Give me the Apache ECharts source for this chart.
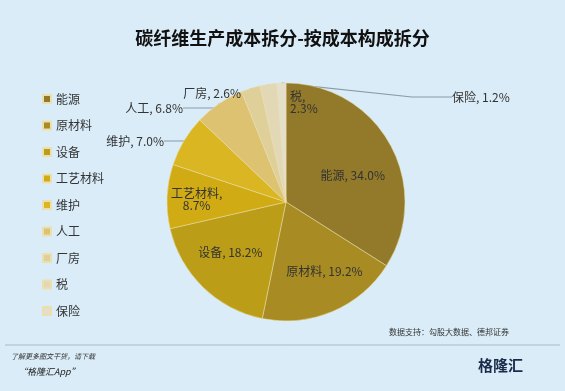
<!DOCTYPE html>
<html><head><meta charset="utf-8">
<script src="https://cdn.jsdelivr.net/npm/echarts@6/dist/echarts.min.js"></script>
<style>html,body{margin:0;padding:0;background:#d9ecf7;}#c{width:565px;height:391px;}</style>
</head><body><div id="c"></div>
<script>
const categories = ['能源','原材料','设备','工艺材料','维护','人工','厂房','税','保险'];
const values = [34.0, 19.2, 18.2, 8.7, 7.0, 6.8, 2.6, 2.3, 1.2];
const colors = ['#927a2a','#a88c23','#bc9d17','#d0ab14','#dab722','#dcc271','#dfcf98','#e2d8b6','#e4dfcb'];
const inside = {'能源':1,'原材料':1,'设备':1,'工艺材料':1};
const chart = echarts.init(document.getElementById('c'));
const fmt = v => v.toFixed(1) + '%';
const data = categories.map((n,i)=>{
  const d = {name:n, value:values[i], itemStyle:{color:colors[i]}};
  if (inside[n]) {
    d.label = {position:'inside', formatter: n==='工艺材料' ? (p=>p.name+',\n'+fmt(p.value)) : (p=>p.name+', '+fmt(p.value))};
    d.labelLine = {show:false};
  }
  if (n==='税') { d.label = {formatter:p=>p.name+',\n'+fmt(p.value), align:'left'}; }
  return d;
});
chart.setOption({
  backgroundColor:'#d9ecf7',
  animation:false,
  title:{text:'碳纤维生产成本拆分-按成本构成拆分', left:'center', top:24,
    textStyle:{fontSize:18, fontWeight:'bold', color:'#111', fontFamily:'Noto Sans CJK SC'}},
  legend:{orient:'vertical', left:37, top:88, itemWidth:8, itemHeight:8, itemGap:14.5, icon:'rect',
    textStyle:{fontSize:12, color:'#333', fontFamily:'Noto Sans CJK SC'}, data:categories},
  graphic:[
    {type:'text', left:178, top:163, style:{text:'格隆汇  |  勾股大数据', fontSize:20, fill:'rgba(150,150,150,0.22)', fontFamily:'Noto Sans CJK SC'}},
    {type:'line', shape:{x1:5,y1:345,x2:560,y2:345}, style:{stroke:'#b0b8bf', lineWidth:1}},
    {type:'text', right:56, top:328, style:{text:'数据支持：勾股大数据、德邦证券', fontSize:8, fill:'#333', fontFamily:'Noto Sans CJK SC'}},
    {type:'text', left:11, top:353, style:{text:'了解更多图文干货，请下载', fontSize:7, fontStyle:'italic', fill:'#333', fontFamily:'Noto Sans CJK SC'}},
    {type:'text', left:18, top:367, style:{text:'“格隆汇App”', fontSize:9, fontStyle:'italic', fill:'#222', fontFamily:'Noto Sans CJK SC'}},
    {type:'text', left:478, top:358, style:{text:'格隆汇', fontSize:15, fontWeight:'bold', fill:'#1a2a4a', fontFamily:'Noto Sans CJK SC'}}
  ],
  series:[{
    type:'pie', center:[286,202], radius:[0,119], startAngle:90, clockwise:true,
    data:data,
    itemStyle:{borderColor:'#ecdfae', borderWidth:0.5},
    label:{formatter:p=>p.name+', '+fmt(p.value), fontSize:12, color:'#333', fontFamily:'Noto Sans CJK SC'},
    labelLine:{length:12, length2:40, lineStyle:{color:'#8a9aa8', width:1.2}},
    labelLayout:function(p){
      const n = categories[p.dataIndex];
      if (n==='保险') return {x:452, y:97, align:'left', verticalAlign:'middle'};
      if (n==='税') return {x:290, y:102, align:'left', verticalAlign:'middle'};
      if (n==='厂房') return {x:241, y:93, align:'right', verticalAlign:'middle'};
      if (n==='人工') return {x:183, y:108, align:'right', verticalAlign:'middle'};
      if (n==='维护') return {x:164, y:141, align:'right', verticalAlign:'middle'};
      if (n==='能源') return {dx:12, dy:4};
      if (n==='原材料') return {dx:14, dy:12};
      if (n==='设备') return {dx:-12, dy:6};
      if (n==='工艺材料') return {dx:-27, dy:0};
      return {};
    }
  }]
});
</script></body></html>
